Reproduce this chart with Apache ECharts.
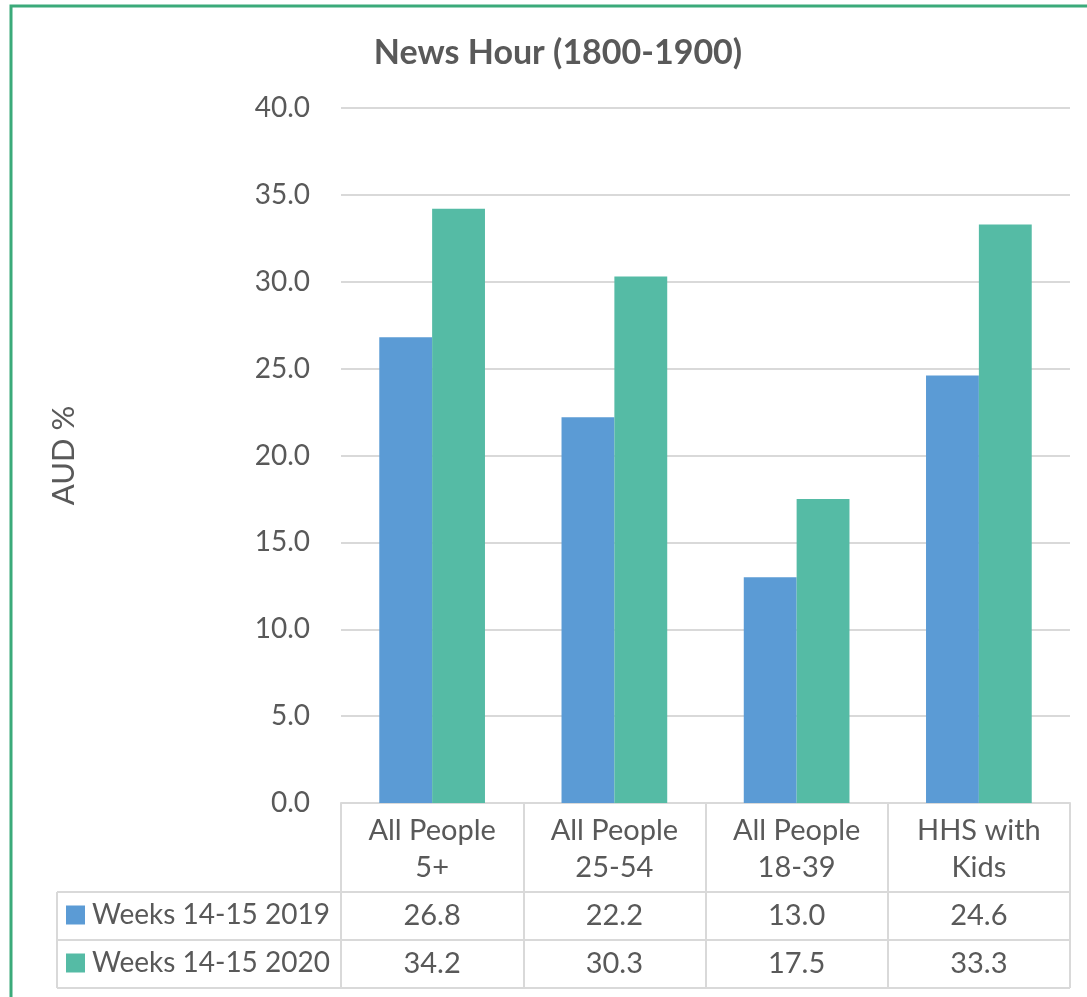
<!DOCTYPE html>
<html>
<head>
<meta charset="utf-8">
<script src="https://cdn.jsdelivr.net/npm/echarts@6/dist/echarts.min.js"></script>
<style>html,body{margin:0;padding:0;background:#fff;}#c{width:1087px;height:997px;}</style>
</head>
<body>
<div id="c"></div>
<script>
const categories = ['All People\n5+', 'All People\n25-54', 'All People\n18-39', 'HHS with\nKids'];
const seriesNames = ['Weeks 14-15 2019', 'Weeks 14-15 2020'];
const values2019 = [26.8, 22.2, 13.0, 24.6];
const values2020 = [34.2, 30.3, 17.5, 33.3];
const yTicks = { min: 0, max: 40, interval: 5 };
const titleText = 'News Hour (1800-1900)';
const yName = 'AUD %';

const FONT = 'Lato';
const TXT = '#595959';
const LINE = '#d9d9d9';
const colors = ['#5B9BD5', '#55BBA5'];
const FS = 29;

const chart = echarts.init(document.getElementById('c'));
const gridLeft = 341, gridRight = 17, gridTop = 108, gridBottom = 194;

function valueAxis(vals, margin) {
  return {
    type: 'category', data: categories, gridIndex: 0, position: 'bottom',
    axisLine: { show: false }, axisTick: { show: false },
    axisLabel: {
      interval: 0, margin: margin, verticalAlign: 'middle',
      color: TXT, fontFamily: FONT, fontSize: FS,
      formatter: (v, i) => vals[i].toFixed(1)
    }
  };
}

function legendRow(name, top) {
  return {
    orient: 'horizontal', left: 66, top: top, padding: 0, itemWidth: 19, itemHeight: 19,
    icon: 'rect', data: [name], height: 40,
    textStyle: { fontFamily: FONT, fontSize: 28, color: TXT, padding: [0, 0, 0, 2] }
  };
}

chart.setOption({
  animation: false,
  textStyle: { fontFamily: FONT },
  title: {
    text: titleText, left: 553, textAlign: 'center', top: 31,
    textStyle: { fontFamily: FONT, fontWeight: 'bold', fontSize: 34, color: TXT }
  },
  legend: [legendRow(seriesNames[0], 901), legendRow(seriesNames[1], 949)],
  grid: { left: gridLeft, right: gridRight, top: gridTop, bottom: gridBottom },
  xAxis: [
    {
      type: 'category', data: categories, gridIndex: 0,
      axisLine: { show: true, lineStyle: { color: LINE, width: 2 } },
      axisTick: { show: true, length: 185, lineStyle: { color: LINE, width: 2 } },
      axisLabel: {
        interval: 0, margin: 9, color: TXT, fontFamily: FONT, fontSize: FS, lineHeight: 37
      }
    },
    valueAxis(values2019, 113),
    valueAxis(values2020, 161)
  ],
  yAxis: {
    type: 'value', min: yTicks.min, max: yTicks.max, interval: yTicks.interval,
    name: yName, nameLocation: 'middle', nameGap: 262, nameRotate: 90,
    nameTextStyle: { fontFamily: FONT, fontSize: 31, color: TXT },
    axisLine: { show: false }, axisTick: { show: false },
    axisLabel: { margin: 31, color: TXT, fontFamily: FONT, fontSize: 28, formatter: v => v.toFixed(1) },
    splitLine: { lineStyle: { color: LINE, width: 2 } }
  },
  series: [
    { name: seriesNames[0], type: 'bar', data: values2019, itemStyle: { color: colors[0] }, barGap: '0%', barCategoryGap: '42%' },
    { name: seriesNames[1], type: 'bar', data: values2020, itemStyle: { color: colors[1] }, barGap: '0%', barCategoryGap: '42%' }
  ],
  graphic: [
    { type: 'rect', shape: { x: 11, y: 6, width: 1200, height: 1200 }, style: { fill: 'none', stroke: '#3BAA7A', lineWidth: 3 }, silent: true },
    { type: 'line', shape: { x1: 57, y1: 892, x2: 1070, y2: 892 }, style: { stroke: LINE, lineWidth: 2 } },
    { type: 'line', shape: { x1: 57, y1: 940, x2: 1070, y2: 940 }, style: { stroke: LINE, lineWidth: 2 } },
    { type: 'line', shape: { x1: 57, y1: 988, x2: 1070, y2: 988 }, style: { stroke: LINE, lineWidth: 2 } },
    { type: 'line', shape: { x1: 57, y1: 892, x2: 57, y2: 988 }, style: { stroke: LINE, lineWidth: 2 } }
  ]
});
</script>
</body>
</html>
